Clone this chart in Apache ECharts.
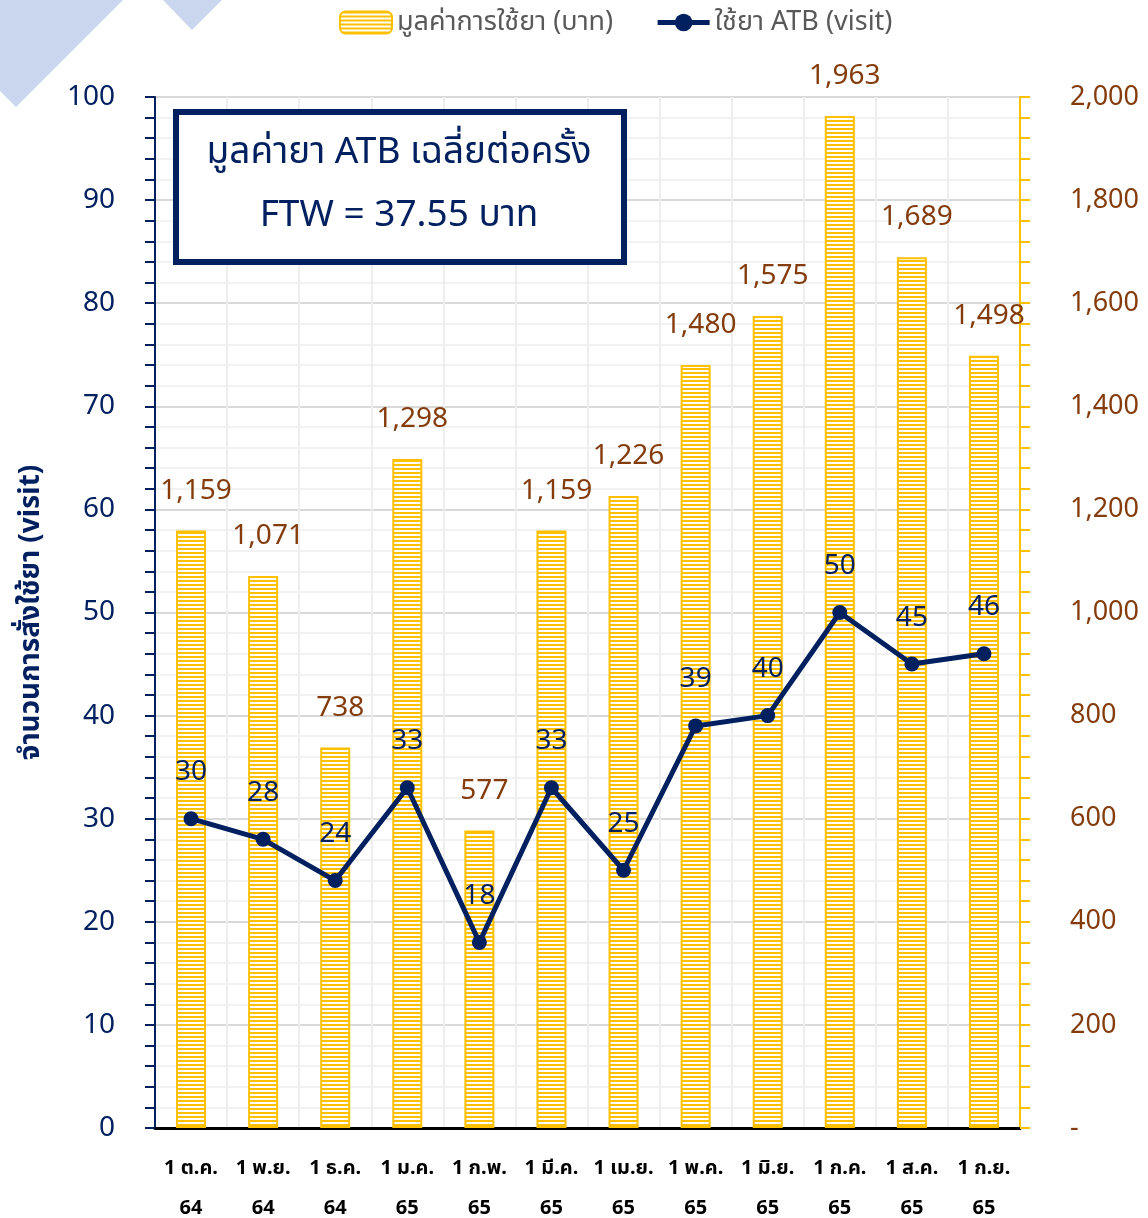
<!DOCTYPE html>
<html>
<head>
<meta charset="utf-8">
<script src="https://cdn.jsdelivr.net/npm/echarts@6/dist/echarts.min.js"></script>
<style>
  html, body { margin: 0; padding: 0; background: #fff; }
  #chart { width: 1148px; height: 1218px; }
</style>
</head>
<body>
<div id="chart"></div>
<script>
const months = ["1 ต.ค.\n64", "1 พ.ย.\n64", "1 ธ.ค.\n64", "1 ม.ค.\n65", "1 ก.พ.\n65", "1 มี.ค.\n65",
                "1 เม.ย.\n65", "1 พ.ค.\n65", "1 มิ.ย.\n65", "1 ก.ค.\n65", "1 ส.ค.\n65", "1 ก.ย.\n65"];
const drugCost = [1159, 1071, 738, 1298, 577, 1159, 1226, 1480, 1575, 1963, 1689, 1498];
const atbVisits = [30, 28, 24, 33, 18, 33, 25, 39, 40, 50, 45, 46];

const costName = "มูลค่าการใช้ยา (บาท)";
const visitName = "ใช้ยา ATB (visit)";
const boxLine1 = "มูลค่ายา ATB เฉลี่ยต่อครั้ง";
const boxLine2 = "FTW = 37.55 บาท";

const navy = "#002060";
const gold = "#FFC000";
const brown = "#843C0C";
const font = "'Noto Sans', 'Noto Sans Thai', 'Leelawadee UI', Tahoma, sans-serif";

// striped fill like the Excel pattern
function stripePattern() {
    const c = document.createElement("canvas");
    c.width = 4;
    c.height = 4;
    const ctx = c.getContext("2d");
    ctx.fillStyle = "#ffffff";
    ctx.fillRect(0, 0, 4, 4);
    ctx.fillStyle = gold;
    ctx.fillRect(0, 0, 4, 2);
    return c;
}

const chart = echarts.init(document.getElementById("chart"), null, { renderer: "canvas" });

chart.setOption({
    animation: false,
    textStyle: { fontFamily: font },
    grid: { left: 155, right: 128, top: 97, bottom: 90, outerBoundsMode: "none", containLabel: false },
    legend: {
        top: 4,
        left: 334,
        itemWidth: 52,
        itemHeight: 22,
        itemGap: 42,
        textStyle: { fontSize: 27, color: "#595959", fontFamily: font },
        lineStyle: { width: 5 },
        data: [costName, visitName]
    },
    graphic: [
        {
            type: "polygon",
            z: -10,
            shape: { points: [[0, 0], [123, 0], [16, 107], [0, 91]] },
            style: { fill: "#C9D6EE" }
        },
        {
            type: "polygon",
            z: -10,
            shape: { points: [[163, 0], [222, 0], [192, 30]] },
            style: { fill: "#C9D6EE" }
        },
        {
            type: "rect",
            z: 100,
            shape: { x: 176, y: 112, width: 448, height: 150 },
            style: { fill: "#fff", stroke: navy, lineWidth: 6 }
        },
        {
            type: "text",
            z: 101,
            x: 399,
            y: 152,
            style: {
                text: boxLine1,
                fill: navy,
                font: "37px " + font,
                align: "center",
                verticalAlign: "middle"
            }
        },
        {
            type: "text",
            z: 101,
            x: 399,
            y: 215,
            style: {
                text: boxLine2,
                fill: navy,
                font: "37px " + font,
                align: "center",
                verticalAlign: "middle"
            }
        }
    ],
    xAxis: {
        type: "category",
        data: months,
        axisLine: { lineStyle: { color: "#000", width: 3 } },
        axisTick: { show: false },
        axisLabel: {
            color: "#000",
            fontWeight: "bold",
            fontSize: 20,
            lineHeight: 40,
            margin: 20,
            interval: 0
        },
        splitLine: { show: true, lineStyle: { color: "#EEEEEE", width: 2 } }
    },
    yAxis: [
        {
            type: "value",
            min: 0,
            max: 100,
            interval: 10,
            name: "จำนวนการสั่งใช้ยา (visit)",
            nameLocation: "middle",
            nameGap: 110,
            nameTextStyle: { color: navy, fontSize: 28, fontWeight: "bold" },
            axisLine: { show: true, lineStyle: { color: navy, width: 2 } },
            axisTick: { show: true, length: 10, lineStyle: { color: navy, width: 2 } },
            minorTick: { show: true, splitNumber: 5, length: 10, lineStyle: { color: navy, width: 2 } },
            axisLabel: { color: navy, fontSize: 28, margin: 40 },
            splitLine: { lineStyle: { color: "#D9D9D9", width: 2 } },
            minorSplitLine: { show: true, lineStyle: { color: "#F2F2F2", width: 2 } }
        },
        {
            type: "value",
            min: 0,
            max: 2000,
            interval: 200,
            position: "right",
            axisLine: { show: true, lineStyle: { color: gold, width: 2 } },
            axisTick: { show: true, length: 10, lineStyle: { color: gold, width: 2 } },
            minorTick: { show: true, splitNumber: 5, length: 10, lineStyle: { color: gold, width: 2 } },
            axisLabel: {
                color: brown,
                fontSize: 27,
                margin: 50,
                formatter: v => v === 0 ? "-" : v.toLocaleString("en-US")
            },
            splitLine: { show: false }
        }
    ],
    series: [
        {
            name: costName,
            type: "bar",
            yAxisIndex: 1,
            barWidth: 30,
            data: drugCost,
            itemStyle: {
                color: { image: stripePattern(), repeat: "repeat" },
                borderColor: gold,
                borderWidth: 2
            },
            label: {
                show: true,
                position: "top",
                distance: 26,
                offset: [5, 0],
                color: brown,
                fontSize: 28,
                formatter: p => p.value.toLocaleString("en-US")
            }
        },
        {
            name: visitName,
            type: "line",
            data: atbVisits,
            z: 10,
            symbol: "circle",
            symbolSize: 15,
            lineStyle: { color: navy, width: 5 },
            itemStyle: { color: navy },
            label: {
                show: true,
                position: "top",
                distance: 25,
                color: navy,
                fontSize: 28
            }
        }
    ]
});
</script>
</body>
</html>
